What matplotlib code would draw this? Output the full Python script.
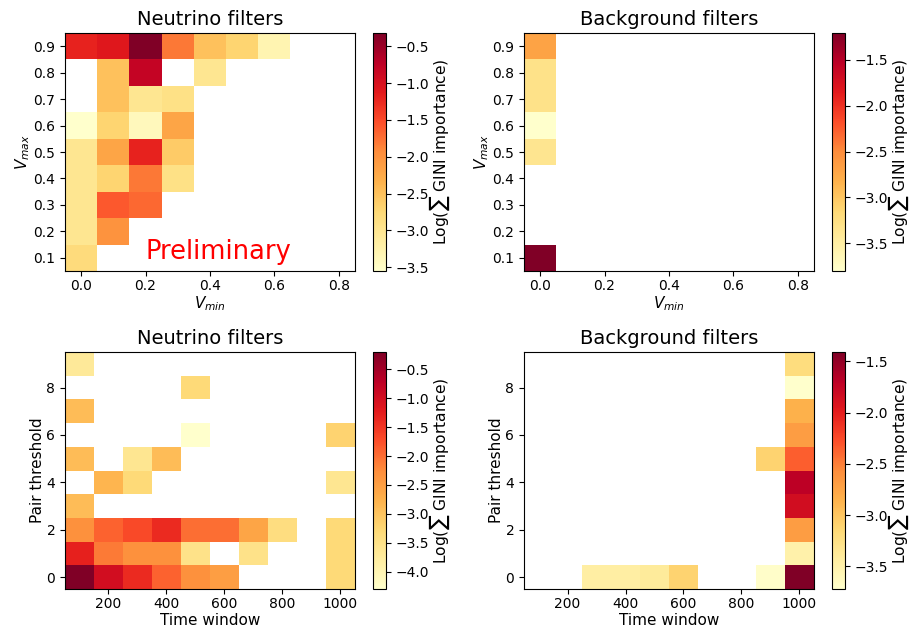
import numpy as np
import matplotlib
matplotlib.use("Agg")
import matplotlib.pyplot as plt
from matplotlib.ticker import MultipleLocator

nan = np.nan

v_min = [0.0, 0.1, 0.2, 0.3, 0.4, 0.5, 0.6, 0.7, 0.8]
v_max = [0.1, 0.2, 0.3, 0.4, 0.5, 0.6, 0.7, 0.8, 0.9]
time_window = [100, 200, 300, 400, 500, 600, 700, 800, 900, 1000]
pair_threshold = [0, 1, 2, 3, 4, 5, 6, 7, 8, 9]

# rows: v_max (bottom -> top), columns: v_min
nu_volt = [
    [-2.8, nan, nan, nan, nan, nan, nan, nan, nan],
    [-3.0, -2.0, nan, nan, nan, nan, nan, nan, nan],
    [-3.0, -1.6, -1.7, nan, nan, nan, nan, nan, nan],
    [-3.0, -2.7, -1.8, -2.9, nan, nan, nan, nan, nan],
    [-3.0, -2.2, -1.2, -2.6, nan, nan, nan, nan, nan],
    [-3.55, -2.7, -3.4, -2.2, nan, nan, nan, nan, nan],
    [nan, -2.5, -3.0, -2.9, nan, nan, nan, nan, nan],
    [nan, -2.5, -0.8, nan, -3.0, nan, nan, nan, nan],
    [-1.2, -1.1, -0.32, -1.8, -2.5, -2.7, -3.3, nan, nan],
]
bg_volt = [
    [-1.21, nan, nan, nan, nan, nan, nan, nan, nan],
    [nan, nan, nan, nan, nan, nan, nan, nan, nan],
    [nan, nan, nan, nan, nan, nan, nan, nan, nan],
    [nan, nan, nan, nan, nan, nan, nan, nan, nan],
    [-3.35, nan, nan, nan, nan, nan, nan, nan, nan],
    [-3.8, nan, nan, nan, nan, nan, nan, nan, nan],
    [-3.3, nan, nan, nan, nan, nan, nan, nan, nan],
    [-3.3, nan, nan, nan, nan, nan, nan, nan, nan],
    [-2.7, nan, nan, nan, nan, nan, nan, nan, nan],
]
# rows: pair threshold (bottom -> top), columns: time window
nu_time = [
    [-0.2, -1.0, -1.4, -1.9, -2.3, -2.5, nan, nan, nan, -3.3],
    [-1.3, -2.1, -2.3, -2.3, -3.5, nan, -3.5, nan, nan, -3.3],
    [-2.3, -1.9, -1.7, -1.4, -2.0, -2.0, -2.6, -3.4, nan, -3.3],
    [-2.9, nan, nan, nan, nan, nan, nan, nan, nan, nan],
    [nan, -2.8, -3.3, nan, nan, nan, nan, nan, nan, -3.6],
    [-2.9, nan, -3.6, -2.9, nan, nan, nan, nan, nan, nan],
    [nan, nan, nan, nan, -4.3, nan, nan, nan, nan, -3.2],
    [-2.9, nan, nan, nan, nan, nan, nan, nan, nan, nan],
    [nan, nan, nan, nan, -3.3, nan, nan, nan, nan, nan],
    [-3.7, nan, nan, nan, nan, nan, nan, nan, nan, nan],
]
bg_time = [
    [nan, nan, -3.45, -3.45, -3.4, -3.1, nan, nan, -3.7, -1.41],
    [nan, nan, nan, nan, nan, nan, nan, nan, nan, -3.5],
    [nan, nan, nan, nan, nan, nan, nan, nan, nan, -2.7],
    [nan, nan, nan, nan, nan, nan, nan, nan, nan, -1.85],
    [nan, nan, nan, nan, nan, nan, nan, nan, nan, -1.7],
    [nan, nan, nan, nan, nan, nan, nan, nan, -3.1, -2.35],
    [nan, nan, nan, nan, nan, nan, nan, nan, nan, -2.7],
    [nan, nan, nan, nan, nan, nan, nan, nan, nan, -2.85],
    [nan, nan, nan, nan, nan, nan, nan, nan, nan, -3.72],
    [nan, nan, nan, nan, nan, nan, nan, nan, nan, -3.2],
]

W, H = 910, 631
fig = plt.figure(figsize=(W / 100, H / 100), dpi=100)


def px_axes(x0, y0, x1, y1):
    return fig.add_axes([x0 / W, 1 - y1 / H, (x1 - x0) / W, (y1 - y0) / H])


def heatmap(ax, cax, xs, ys, z, dx, dy):
    z = np.array(z, dtype=float)
    extent = [xs[0] - dx / 2, xs[-1] + dx / 2, ys[0] - dy / 2, ys[-1] + dy / 2]
    im = ax.imshow(np.ma.masked_invalid(z), cmap="YlOrRd", origin="lower",
                   extent=extent, aspect="auto", interpolation="nearest")
    cb = fig.colorbar(im, cax=cax)
    cb.ax.yaxis.set_major_locator(MultipleLocator(0.5))
    cb.set_label(r"Log($\sum$ GINI importance)", fontsize=11.2, labelpad=-1)
    ax.tick_params(axis="x", pad=2.5)
    return im


label_kw = dict(fontsize=11, labelpad=1)

ax1 = px_axes(65, 33, 355, 271)
cax1 = px_axes(373, 33, 386, 271)
heatmap(ax1, cax1, v_min, v_max, nu_volt, 0.1, 0.1)
ax1.set_title("Neutrino filters", fontsize=14)
ax1.set_xlabel(r"$V_{min}$", **label_kw)
ax1.set_ylabel(r"$V_{max}$", **label_kw)
ax1.set_xticks([0.0, 0.2, 0.4, 0.6, 0.8])
ax1.set_yticks(v_max)
ax1.text(0.53, 0.08, "Preliminary", color="red", fontsize=18.5,
         transform=ax1.transAxes, ha="center", va="center")

ax2 = px_axes(524, 33, 814, 271)
cax2 = px_axes(832, 33, 845, 271)
heatmap(ax2, cax2, v_min, v_max, bg_volt, 0.1, 0.1)
ax2.set_title("Background filters", fontsize=14)
ax2.set_xlabel(r"$V_{min}$", **label_kw)
ax2.set_ylabel(r"$V_{max}$", **label_kw)
ax2.set_xticks([0.0, 0.2, 0.4, 0.6, 0.8])
ax2.set_yticks(v_max)

ax3 = px_axes(65, 352, 355, 589)
cax3 = px_axes(373, 352, 386, 589)
heatmap(ax3, cax3, time_window, pair_threshold, nu_time, 100, 1)
ax3.set_title("Neutrino filters", fontsize=14)
ax3.set_xlabel("Time window", **label_kw)
ax3.set_ylabel("Pair threshold", **label_kw)
ax3.set_xticks([200, 400, 600, 800, 1000])
ax3.set_yticks([0, 2, 4, 6, 8])

ax4 = px_axes(524, 352, 814, 589)
cax4 = px_axes(832, 352, 845, 589)
heatmap(ax4, cax4, time_window, pair_threshold, bg_time, 100, 1)
ax4.set_title("Background filters", fontsize=14)
ax4.set_xlabel("Time window", **label_kw)
ax4.set_ylabel("Pair threshold", **label_kw)
ax4.set_xticks([200, 400, 600, 800, 1000])
ax4.set_yticks([0, 2, 4, 6, 8])

fig.savefig("out.png", dpi=100)
